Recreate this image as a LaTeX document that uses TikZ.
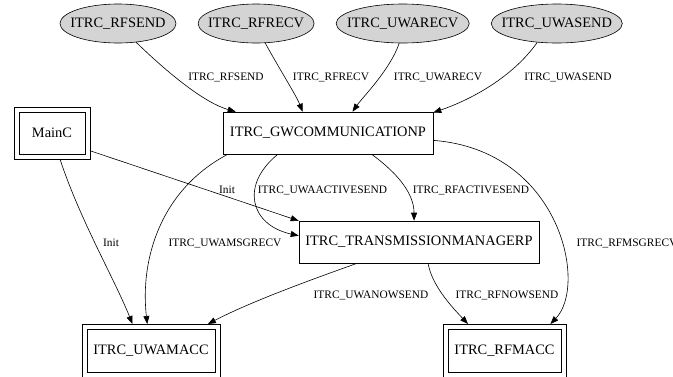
\documentclass[tikz,border=0pt]{standalone}
\usepackage{fontspec}
\setmainfont{Liberation Serif}
\usetikzlibrary{arrows.meta,positioning,shapes.geometric}

\begin{document}
\begin{tikzpicture}[
            x=1pt,y=-1pt,
            line width=0.6pt,
            >={Triangle[length=8pt,width=6pt]},
            nodefont/.style={font=\fontsize{14.4}{16}\selectfont},
            labelfont/.style={font=\fontsize{11.4}{13}\selectfont},
            iface/.style={ellipse,draw,fill=ifgray,nodefont,inner xsep=-12pt,inner ysep=0pt,minimum height=39pt},
            module/.style={rectangle,draw,nodefont,minimum height=42pt},
            config/.style={rectangle,draw,nodefont,minimum height=43pt,outer sep=5pt}
        ]
            \colorlet{ifgray}{black!17}
            \useasboundingbox (0,0) rectangle (673,376);

            \begin{scope}[
                node distance=21.5pt
            ]
                \node (rfsend)  [iface,minimum width=116pt] at (118,23.5)      {ITRC\_RFSEND};
                \node (rfrecv)  [iface,minimum width=116pt,right=of rfsend]  {ITRC\_RFRECV};
                \node (uwarecv) [iface,minimum width=133pt,right=of rfrecv]  {ITRC\_UWARECV};
                \node (uwasend) [iface,minimum width=131pt,right=of uwarecv] {ITRC\_UWASEND};
            \end{scope}

            \node (gw)      [module,minimum width=210pt] at (328,133)   {ITRC\_GWCOMMUNICATIONP};
            \node (tm)      [module,minimum width=240pt] at (419,242)   {ITRC\_TRANSMISSIONMANAGERP};
            \node (mainc)   [config,minimum width=66pt,minimum height=42pt] at (52,133) {MainC};
            \node (uwamacc) [config,minimum width=128pt] at (151,350.5) {ITRC\_UWAMACC};
            \node (rfmacc)  [config,minimum width=113pt] at (504.5,350.5) {ITRC\_RFMACC};
            \foreach \n in {mainc,uwamacc,rfmacc}
                \draw (\n.north west) rectangle (\n.south east);

            \draw [->] (rfsend.-46)   .. controls (170,75)  and (205,103) .. (gw.167);
            \draw [->] (rfrecv.-65)   .. controls (280,70)  and (296,95)  .. (gw.140);
            \draw [->] (uwarecv.-100) .. controls (390,70)  and (362,98)  .. (gw.41);
            \draw [->] (uwasend.-136) .. controls (512,78)  and (470,100) .. (gw.11.5);
            \draw [->] (mainc.-25)    --                                   (tm.170);
            \draw [->] (mainc.-73)    .. controls (80,220)  and (115,280) .. (uwamacc.125);
            \draw [->] (gw.-168)      .. controls (160,190) and (140,260) .. (uwamacc.98);
            \draw [->] (gw.-157)      .. controls (240,185) and (250,225) .. (tm.177);
            \draw [->] (gw.-26)       .. controls (400,175) and (414,195) .. (tm.103);
            \draw [->] (gw.-4)        .. controls (560,150) and (588,285) .. (rfmacc.30);
            \draw [->] (tm.-161.5)    .. controls (310,280) and (250,302) .. (uwamacc.25);
            \draw [->] (tm.-67)       .. controls (432,285) and (450,305) .. (rfmacc.144);

            \node (lrfsend)  [labelfont] at (226,77)   {ITRC\_RFSEND};
            \node (lrfrecv)  [labelfont] at (331,77)   {ITRC\_RFRECV};
            \node (luwarecv) [labelfont] at (438,77)   {ITRC\_UWARECV};
            \node (luwasend) [labelfont] at (568,77)   {ITRC\_UWASEND};
            \node (linittm)  [labelfont] at (227,190)  {Init};
            \node (luwaact)  [labelfont] at (322.5,190) {ITRC\_UWAACTIVESEND};
            \node (lrfact)   [labelfont] at (471,190)  {ITRC\_RFACTIVESEND};
            \node (linituwa) [labelfont] at (111,243)  {Init};
            \node (luwamsg)  [labelfont] at (225,243)  {ITRC\_UWAMSGRECV};
            \node (lrfmsg)   [labelfont,anchor=west] at (573,243) {ITRC\_RFMSGRECV};
            \node (luwanow)  [labelfont] at (371,295)  {ITRC\_UWANOWSEND};
            \node (lrfnow)   [labelfont] at (507,295)  {ITRC\_RFNOWSEND};
        \end{tikzpicture}
\end{document}
